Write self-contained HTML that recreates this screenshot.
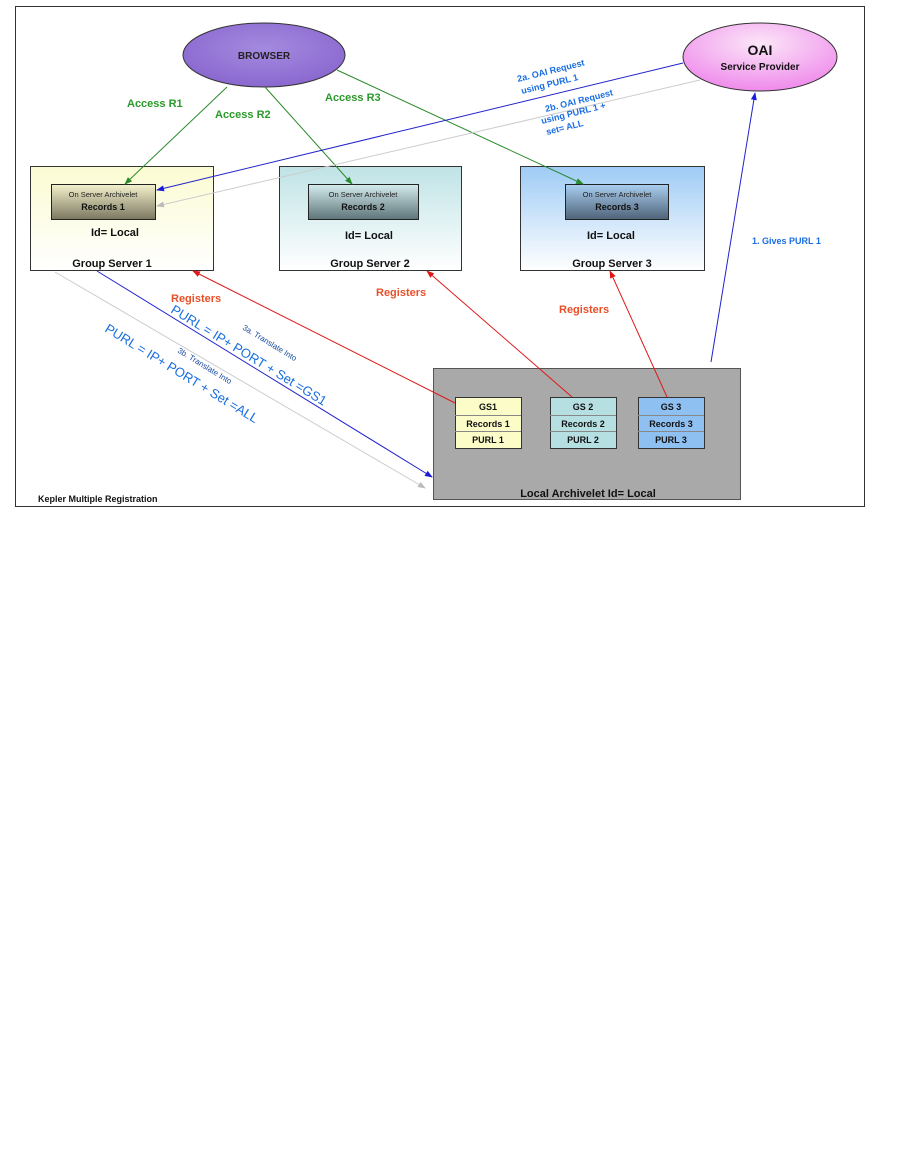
<!DOCTYPE html>
<html><head><meta charset="utf-8"><style>
html,body{margin:0;padding:0;background:#fff;}
svg{display:block;font-family:"Liberation Sans",sans-serif;}
</style></head><body>
<svg width="909" height="1150" viewBox="0 0 909 1150" xmlns="http://www.w3.org/2000/svg">
<defs>
<linearGradient id="g1" x1="0" y1="0" x2="0" y2="1"><stop offset="0" stop-color="#fbfbd2"/><stop offset="1" stop-color="#ffffff"/></linearGradient>
<linearGradient id="g2" x1="0" y1="0" x2="0" y2="1"><stop offset="0" stop-color="#bfe3e6"/><stop offset="1" stop-color="#ffffff"/></linearGradient>
<linearGradient id="g3" x1="0" y1="0" x2="0" y2="1"><stop offset="0" stop-color="#9ecbf5"/><stop offset="1" stop-color="#ffffff"/></linearGradient>
<linearGradient id="i1" x1="0" y1="0" x2="0" y2="1"><stop offset="0" stop-color="#f4f2cc"/><stop offset="1" stop-color="#7a7760"/></linearGradient>
<linearGradient id="i2" x1="0" y1="0" x2="0" y2="1"><stop offset="0" stop-color="#d4ecee"/><stop offset="1" stop-color="#5d7478"/></linearGradient>
<linearGradient id="i3" x1="0" y1="0" x2="0" y2="1"><stop offset="0" stop-color="#a9cef0"/><stop offset="1" stop-color="#4f6378"/></linearGradient>
<radialGradient id="eb" cx="0.5" cy="0.4" r="0.6"><stop offset="0" stop-color="#a48adf"/><stop offset="1" stop-color="#8a68cf"/></radialGradient>
<radialGradient id="eo" cx="0.5" cy="0.3" r="0.7"><stop offset="0" stop-color="#fbe6f8"/><stop offset="1" stop-color="#ef8aeb"/></radialGradient>
<marker id="ag" markerWidth="8" markerHeight="8" refX="7" refY="4" orient="auto" markerUnits="userSpaceOnUse"><path d="M0,1 L8,4 L0,7z" fill="#2a8a2a"/></marker>
<marker id="ab" markerWidth="8" markerHeight="8" refX="7" refY="4" orient="auto" markerUnits="userSpaceOnUse"><path d="M0,1 L8,4 L0,7z" fill="#1a1adc"/></marker>
<marker id="ar" markerWidth="8" markerHeight="8" refX="7" refY="4" orient="auto" markerUnits="userSpaceOnUse"><path d="M0,1 L8,4 L0,7z" fill="#e01818"/></marker>
<marker id="ay" markerWidth="8" markerHeight="8" refX="7" refY="4" orient="auto" markerUnits="userSpaceOnUse"><path d="M0,1 L8,4 L0,7z" fill="#bbbbbb"/></marker>
</defs>
<rect x="15.5" y="6.5" width="849" height="500" fill="#fff" stroke="#333" stroke-width="1"/>

<!-- group servers -->
<rect x="30.5" y="166.5" width="183" height="104" fill="url(#g1)" stroke="#333"/>
<rect x="51.5" y="184.5" width="104" height="35" fill="url(#i1)" stroke="#222"/>
<text x="103" y="197" font-size="7.5" text-anchor="middle" fill="#222">On Server Archivelet</text>
<text x="103" y="210" font-size="9" font-weight="bold" text-anchor="middle" fill="#111">Records 1</text>
<text x="115" y="236" font-size="11" font-weight="bold" text-anchor="middle" fill="#111">Id= Local</text>
<text x="112" y="267" font-size="11" font-weight="bold" text-anchor="middle" fill="#111">Group Server 1</text>

<rect x="279.5" y="166.5" width="182" height="104" fill="url(#g2)" stroke="#333"/>
<rect x="308.5" y="184.5" width="110" height="35" fill="url(#i2)" stroke="#222"/>
<text x="363" y="197" font-size="7.5" text-anchor="middle" fill="#222">On Server Archivelet</text>
<text x="363" y="210" font-size="9" font-weight="bold" text-anchor="middle" fill="#111">Records 2</text>
<text x="369" y="239" font-size="11" font-weight="bold" text-anchor="middle" fill="#111">Id= Local</text>
<text x="370" y="267" font-size="11" font-weight="bold" text-anchor="middle" fill="#111">Group Server 2</text>

<rect x="520.5" y="166.5" width="184" height="104" fill="url(#g3)" stroke="#333"/>
<rect x="565.5" y="184.5" width="103" height="35" fill="url(#i3)" stroke="#222"/>
<text x="617" y="197" font-size="7.5" text-anchor="middle" fill="#222">On Server Archivelet</text>
<text x="617" y="210" font-size="9" font-weight="bold" text-anchor="middle" fill="#111">Records 3</text>
<text x="611" y="239" font-size="11" font-weight="bold" text-anchor="middle" fill="#111">Id= Local</text>
<text x="612" y="267" font-size="11" font-weight="bold" text-anchor="middle" fill="#111">Group Server 3</text>

<!-- local archivelet -->
<rect x="433.5" y="368.5" width="307" height="131" fill="#a9a9a9" stroke="#555"/>
<g font-size="9" font-weight="bold" text-anchor="middle" fill="#111">
<rect x="455.5" y="397.5" width="66" height="51" fill="#fcfcc8" stroke="#333"/>
<line x1="455" y1="415.5" x2="521" y2="415.5" stroke="#888"/><line x1="455" y1="431.5" x2="521" y2="431.5" stroke="#888"/>
<text x="488" y="410">GS1</text><text x="488" y="427">Records 1</text><text x="488" y="443">PURL 1</text>
<rect x="550.5" y="397.5" width="66" height="51" fill="#b6dfe2" stroke="#333"/>
<line x1="550" y1="415.5" x2="616" y2="415.5" stroke="#888"/><line x1="550" y1="431.5" x2="616" y2="431.5" stroke="#888"/>
<text x="583" y="410">GS 2</text><text x="583" y="427">Records 2</text><text x="583" y="443">PURL 2</text>
<rect x="638.5" y="397.5" width="66" height="51" fill="#8fc0f2" stroke="#333"/>
<line x1="638" y1="415.5" x2="704" y2="415.5" stroke="#888"/><line x1="638" y1="431.5" x2="704" y2="431.5" stroke="#888"/>
<text x="671" y="410">GS 3</text><text x="671" y="427">Records 3</text><text x="671" y="443">PURL 3</text>
</g>
<text x="588" y="497" font-size="11" font-weight="bold" text-anchor="middle" fill="#111">Local Archivelet Id= Local</text>

<!-- ellipses -->
<ellipse cx="264" cy="55" rx="81" ry="32" fill="url(#eb)" stroke="#333"/>
<text x="264" y="59" font-size="10" font-weight="bold" text-anchor="middle" fill="#222">BROWSER</text>
<ellipse cx="760" cy="57" rx="77" ry="34" fill="url(#eo)" stroke="#333"/>
<text x="760" y="55" font-size="14" font-weight="bold" text-anchor="middle" fill="#111">OAI</text>
<text x="760" y="70" font-size="10" font-weight="bold" text-anchor="middle" fill="#111">Service Provider</text>

<!-- arrows -->
<line x1="227" y1="87" x2="125" y2="184" stroke="#2a8a2a" marker-end="url(#ag)"/>
<line x1="265" y1="87" x2="352" y2="184" stroke="#2a8a2a" marker-end="url(#ag)"/>
<line x1="337" y1="70" x2="583" y2="184" stroke="#2a8a2a" marker-end="url(#ag)"/>
<line x1="683" y1="63" x2="157" y2="190" stroke="#2222cc" marker-end="url(#ab)"/>
<line x1="700" y1="80" x2="157" y2="206" stroke="#cccccc" marker-end="url(#ay)"/>
<line x1="711" y1="362" x2="755" y2="93" stroke="#2222cc" marker-end="url(#ab)"/>
<line x1="455" y1="403" x2="193" y2="271" stroke="#e01818" marker-end="url(#ar)"/>
<line x1="572" y1="397" x2="427" y2="271" stroke="#e01818" marker-end="url(#ar)"/>
<line x1="667" y1="397" x2="610" y2="271" stroke="#e01818" marker-end="url(#ar)"/>
<line x1="97" y1="271" x2="432" y2="477" stroke="#2222cc" marker-end="url(#ab)"/>
<line x1="55" y1="272" x2="425" y2="488" stroke="#cccccc" marker-end="url(#ay)"/>

<!-- labels -->
<g font-size="11" font-weight="bold" fill="#2a9a2a">
<text x="127" y="107">Access R1</text>
<text x="215" y="118">Access R2</text>
<text x="325" y="101">Access R3</text>
</g>
<g font-size="11" font-weight="bold" fill="#e8502a">
<text x="171" y="302">Registers</text>
<text x="376" y="296">Registers</text>
<text x="559" y="313">Registers</text>
</g>
<text x="752" y="244" font-size="9" font-weight="bold" fill="#1a6ee0">1. Gives PURL 1</text>
<g font-size="9" font-weight="bold" fill="#1a6ee0">
<text transform="translate(518,82) rotate(-14)">2a. OAI Request</text>
<text transform="translate(522,94) rotate(-14)">using PURL 1</text>
<text transform="translate(546,112) rotate(-14)">2b. OAI Request</text>
<text transform="translate(542,124) rotate(-14)">using PURL 1 +</text>
<text transform="translate(547,135) rotate(-14)">set= ALL</text>
</g>
<g fill="#1a6ee0" font-size="13">
<text transform="translate(170,312) rotate(31.5)">PURL = IP+ PORT + Set =GS1</text>
<text transform="translate(104,331) rotate(31.5)">PURL = IP+ PORT + Set =ALL</text>
</g>
<g fill="#1a4aa0" font-size="8">
<text transform="translate(242,329) rotate(31.5)">3a. Translate Into</text>
<text transform="translate(177,352) rotate(31.5)">3b. Translate Into</text>
</g>
<text x="38" y="502" font-size="9" font-weight="bold" fill="#111">Kepler Multiple Registration</text>
</svg>
</body></html>
